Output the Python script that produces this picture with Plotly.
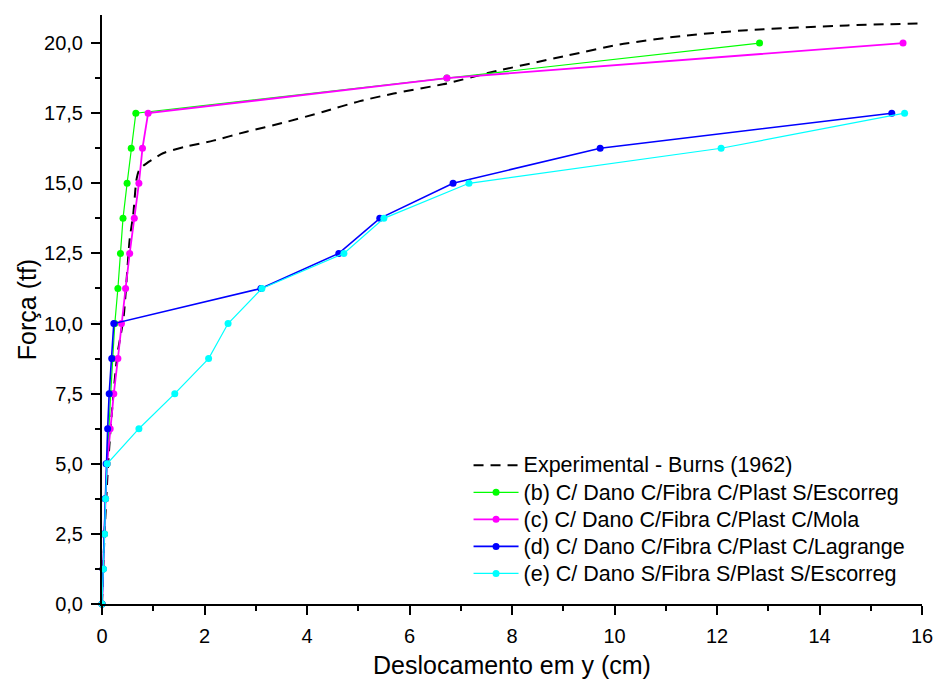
import plotly.graph_objects as go

# Force levels (tf) used by the numerical models
forca = [0.0, 1.25, 2.5, 3.75, 5.0, 6.25, 7.5, 8.75, 10.0, 11.25,
         12.5, 13.75, 15.0, 16.25, 17.5, 18.75, 20.0]

# Experimental curve - Burns (1962)
exp_x = [0.0, 0.05, 0.12, 0.20, 0.30, 0.42, 0.54, 0.61, 0.67, 0.72, 0.80,
         1.19, 1.62, 2.17, 2.82, 3.54, 4.32, 5.03, 5.69, 6.73, 7.57,
         9.07, 10.10, 11.30, 12.59, 14.54, 16.0]
exp_y = [0.0, 2.5, 5.0, 7.0, 8.9, 10.2, 13.0, 13.9, 15.1, 15.45, 15.62,
         16.07, 16.30, 16.52, 16.84, 17.16, 17.55, 17.93, 18.20, 18.56, 18.95,
         19.55, 19.95, 20.25, 20.46, 20.63, 20.70]

# (b) C/ Dano C/Fibra C/Plast S/Escorreg
b_x = [0.0, 0.02, 0.05, 0.07, 0.10, 0.13, 0.17, 0.21, 0.25, 0.31,
       0.36, 0.41, 0.49, 0.57, 0.66, 6.73, 12.83]
b_y = forca

# (c) C/ Dano C/Fibra C/Plast C/Mola
c_x = [0.0, 0.02, 0.04, 0.07, 0.10, 0.16, 0.23, 0.31, 0.38, 0.46,
       0.54, 0.63, 0.72, 0.79, 0.90, 6.73, 15.63]
c_y = forca

# (d) C/ Dano C/Fibra C/Plast C/Lagrange
d_x = [0.0, 0.02, 0.04, 0.06, 0.08, 0.11, 0.14, 0.19, 0.23, 3.10,
       4.62, 5.42, 6.85, 9.72, 15.41]
d_y = forca[:15]

# (e) C/ Dano S/Fibra S/Plast S/Escorreg
e_x = [0.0, 0.03, 0.05, 0.07, 0.10, 0.72, 1.42, 2.08, 2.46, 3.12,
       4.72, 5.50, 7.16, 12.08, 15.66]
e_y = forca[:15]

nomes = [
    "Experimental - Burns (1962)",
    "(b) C/ Dano C/Fibra C/Plast S/Escorreg",
    "(c) C/ Dano C/Fibra C/Plast C/Mola",
    "(d) C/ Dano C/Fibra C/Plast C/Lagrange",
    "(e) C/ Dano S/Fibra S/Plast S/Escorreg",
]

y_ticks = [0.0, 2.5, 5.0, 7.5, 10.0, 12.5, 15.0, 17.5, 20.0]
x_ticks = [0, 2, 4, 6, 8, 10, 12, 14, 16]

FONT = "Liberation Sans, Arial, sans-serif"


def legenda(txt):
    # larger glyphs inside a tighter legend row
    return '<span style="font-size:21.5px">' + txt + "</span>"


fig = go.Figure()
fig.add_trace(go.Scatter(
    x=exp_x, y=exp_y, mode="lines", name=legenda(nomes[0]),
    line=dict(color="black", width=2, dash="10px,7px", shape="spline", smoothing=0.6),
))

series = [
    (b_x, b_y, nomes[1], "#00ff00", 1.2),
    (c_x, c_y, nomes[2], "#ff00ff", 1.8),
    (d_x, d_y, nomes[3], "#0000ff", 1.6),
    (e_x, e_y, nomes[4], "#00ffff", 1.2),
]
for xs, ys, nome, cor, lw in series:
    fig.add_trace(go.Scatter(
        x=xs, y=ys, mode="lines+markers", name=legenda(nome),
        line=dict(color=cor, width=lw),
        marker=dict(color=cor, size=7, symbol="circle"),
        cliponaxis=False,
    ))

axis_common = dict(
    showline=True, linecolor="black", linewidth=2, mirror=False,
    showgrid=False, zeroline=False, automargin=False,
    ticks="outside", ticklen=9, tickwidth=2, tickcolor="black",
    tickfont=dict(family=FONT, size=20, color="black"),
)

fig.update_xaxes(
    range=[0, 16], tickvals=x_ticks, ticklabelstandoff=4,
    minor=dict(dtick=1, tick0=0, ticks="outside", ticklen=5, tickwidth=2, tickcolor="black"),
    title=dict(text="Deslocamento em y (cm)", font=dict(family=FONT, size=25, color="black"), standoff=10),
    **axis_common,
)
fig.update_yaxes(
    range=[0, 21], tickvals=y_ticks, tickformat=".1f", ticklabelstandoff=4,
    minor=dict(dtick=1.25, tick0=0, ticks="outside", ticklen=5, tickwidth=2, tickcolor="black"),
    title=dict(text="Força (tf)", font=dict(family=FONT, size=25, color="black"), standoff=0),
    **axis_common,
)

fig.update_layout(
    width=936, height=682,
    margin=dict(l=102, r=14, t=15, b=78),
    paper_bgcolor="white", plot_bgcolor="white",
    separators=",.",
    font=dict(family=FONT, color="black"),
    legend=dict(
        x=0.447, y=0.267, xanchor="left", yanchor="top",
        bgcolor="rgba(0,0,0,0)", borderwidth=0,
        font=dict(family=FONT, size=18.5, color="black"),
        itemwidth=45, tracegroupgap=0,
    ),
)

fig.write_html("out.html")
